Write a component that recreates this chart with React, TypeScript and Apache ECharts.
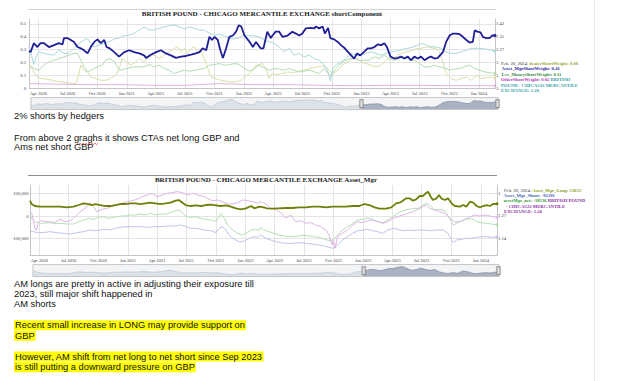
import React, { useEffect, useRef } from "react";
import * as echarts from "echarts";

// ---------------- Chart 1: shortComponent ----------------
const assetMgrShortWeight: [string, number][] = [
  ["2020-03-03",0.29],["2020-03-08",0.28],["2020-03-18",0.35],["2020-03-29",0.32],["2020-04-08",0.35],["2020-04-19",0.35],["2020-05-04",0.32],["2020-05-20",0.335],["2020-06-04",0.35],["2020-06-15",0.34],["2020-06-20",0.39],["2020-06-30",0.39],["2020-07-11",0.375],["2020-07-21",0.36],["2020-08-01",0.32],["2020-08-11",0.31],["2020-08-21",0.295],["2020-09-01",0.27],["2020-09-11",0.32],["2020-09-22",0.36],["2020-10-02",0.38],["2020-10-12",0.35],["2020-10-23",0.375],["2020-10-30",0.32],["2020-11-09",0.31],["2020-11-23",0.28],["2020-12-08",0.245],["2020-12-24",0.28],["2021-01-09",0.295],["2021-01-24",0.28],["2021-02-09",0.27],["2021-02-24",0.255],["2021-03-02",0.235],["2021-03-17",0.26],["2021-04-02",0.28],["2021-04-17",0.295],["2021-05-03",0.27],["2021-05-18",0.255],["2021-06-03",0.235],["2021-06-19",0.245],["2021-07-04",0.25],["2021-07-20",0.26],["2021-08-04",0.27],["2021-08-15",0.28],["2021-08-25",0.31],["2021-09-05",0.295],["2021-09-15",0.40],["2021-09-23",0.375],["2021-10-01",0.40],["2021-10-11",0.375],["2021-10-19",0.295],["2021-10-27",0.235],["2021-11-06",0.31],["2021-11-16",0.40],["2021-11-27",0.41],["2021-12-07",0.44],["2021-12-15",0.49],["2021-12-23",0.48],["2022-01-02",0.41],["2022-01-18",0.36],["2022-01-28",0.32],["2022-02-07",0.36],["2022-02-21",0.31],["2022-03-02",0.31],["2022-03-14",0.44],["2022-03-25",0.39],["2022-03-30",0.41],["2022-04-09",0.44],["2022-04-20",0.44],["2022-04-30",0.40],["2022-05-16",0.41],["2022-05-31",0.44],["2022-06-11",0.425],["2022-06-21",0.41],["2022-07-01",0.425],["2022-07-12",0.466],["2022-07-27",0.47],["2022-08-07",0.466],["2022-08-12",0.48],["2022-08-22",0.466],["2022-09-02",0.48],["2022-09-09",0.425],["2022-09-19",0.47],["2022-09-26",0.39],["2022-10-08",0.38],["2022-10-19",0.36],["2022-10-29",0.335],["2022-11-08",0.315],["2022-11-24",0.27],["2022-12-09",0.23],["2022-12-18",0.27],["2022-12-28",0.255],["2023-01-08",0.28],["2023-01-20",0.31],["2023-01-30",0.31],["2023-02-10",0.32],["2023-02-20",0.34],["2023-03-03",0.335],["2023-03-13",0.35],["2023-03-21",0.32],["2023-04-01",0.245],["2023-04-13",0.23],["2023-04-24",0.235],["2023-05-04",0.245],["2023-05-14",0.23],["2023-05-25",0.245],["2023-06-04",0.217],["2023-06-14",0.245],["2023-06-25",0.23],["2023-07-05",0.245],["2023-07-16",0.217],["2023-07-26",0.235],["2023-08-05",0.245],["2023-08-16",0.23],["2023-08-26",0.235],["2023-09-11",0.28],["2023-09-21",0.36],["2023-10-02",0.41],["2023-10-12",0.425],["2023-10-22",0.425],["2023-11-02",0.42],["2023-11-12",0.40],["2023-11-23",0.375],["2023-12-03",0.355],["2023-12-13",0.36],["2023-12-19",0.45],["2023-12-27",0.44],["2024-01-06",0.435],["2024-01-13",0.40],["2024-01-24",0.39],["2024-02-03",0.39],["2024-02-11",0.41],["2024-02-20",0.41]
];

const levMoneyShortWeight: [string, number][] = [
  ["2020-03-03",0.183],["2020-03-08",0.173],["2020-03-18",0.152],["2020-04-03",0.139],["2020-04-19",0.183],["2020-05-04",0.204],["2020-05-20",0.217],["2020-06-04",0.23],["2020-06-20",0.243],["2020-07-06",0.257],["2020-07-21",0.27],["2020-08-01",0.27],["2020-08-11",0.217],["2020-08-21",0.165],["2020-09-01",0.126],["2020-09-11",0.139],["2020-09-22",0.152],["2020-10-02",0.165],["2020-10-18",0.183],["2020-10-28",0.217],["2020-11-08",0.23],["2020-11-23",0.209],["2020-12-08",0.139],["2020-12-24",0.147],["2021-01-09",0.157],["2021-01-24",0.165],["2021-02-09",0.165],["2021-02-24",0.165],["2021-03-12",0.183],["2021-03-27",0.165],["2021-04-12",0.178],["2021-04-28",0.152],["2021-05-13",0.139],["2021-05-29",0.113],["2021-06-13",0.126],["2021-06-29",0.139],["2021-07-15",0.131],["2021-07-30",0.139],["2021-08-15",0.147],["2021-08-30",0.152],["2021-09-15",0.178],["2021-10-01",0.183],["2021-10-16",0.191],["2021-11-01",0.178],["2021-11-16",0.183],["2021-12-02",0.191],["2021-12-17",0.183],["2022-01-02",0.152],["2022-01-18",0.131],["2022-02-02",0.152],["2022-02-16",0.178],["2022-03-04",0.157],["2022-03-20",0.139],["2022-04-04",0.152],["2022-04-20",0.147],["2022-05-05",0.139],["2022-05-21",0.152],["2022-06-05",0.139],["2022-06-21",0.126],["2022-07-07",0.131],["2022-07-22",0.139],["2022-08-07",0.126],["2022-08-22",0.113],["2022-09-07",0.152],["2022-09-19",0.113],["2022-09-30",0.086],["2022-10-08",0.139],["2022-10-24",0.178],["2022-11-08",0.209],["2022-11-24",0.23],["2022-12-09",0.23],["2022-12-25",0.217],["2023-01-10",0.217],["2023-01-25",0.217],["2023-02-10",0.243],["2023-02-25",0.23],["2023-03-13",0.257],["2023-03-29",0.23],["2023-04-13",0.217],["2023-04-29",0.23],["2023-05-14",0.243],["2023-05-30",0.217],["2023-06-14",0.217],["2023-06-30",0.191],["2023-07-16",0.165],["2023-07-31",0.165],["2023-08-16",0.178],["2023-08-31",0.165],["2023-09-16",0.157],["2023-10-02",0.139],["2023-10-17",0.147],["2023-11-02",0.152],["2023-11-17",0.165],["2023-12-03",0.178],["2023-12-19",0.152],["2024-01-03",0.139],["2024-01-19",0.126],["2024-02-03",0.12],["2024-02-20",0.113]
];

const dealerShortWeight: [string, number][] = [
  ["2020-03-03",0.183],["2020-03-08",0.165],["2020-03-18",0.126],["2020-03-29",0.086],["2020-04-13",0.073],["2020-04-29",0.068],["2020-05-15",0.06],["2020-05-30",0.052],["2020-06-15",0.047],["2020-06-30",0.042],["2020-07-16",0.034],["2020-07-27",0.034],["2020-08-04",0.10],["2020-08-11",0.178],["2020-08-21",0.139],["2020-09-01",0.126],["2020-09-11",0.086],["2020-09-27",0.073],["2020-10-12",0.06],["2020-10-28",0.06],["2020-11-11",0.073],["2020-11-28",0.10],["2020-12-08",0.152],["2020-12-18",0.23],["2020-12-29",0.204],["2021-01-14",0.178],["2021-01-29",0.204],["2021-02-09",0.23],["2021-02-24",0.204],["2021-03-12",0.243],["2021-03-27",0.257],["2021-04-12",0.23],["2021-04-28",0.257],["2021-05-13",0.283],["2021-05-29",0.309],["2021-06-08",0.322],["2021-06-19",0.283],["2021-06-29",0.309],["2021-07-09",0.27],["2021-07-20",0.309],["2021-07-30",0.322],["2021-08-10",0.283],["2021-08-20",0.288],["2021-08-30",0.23],["2021-09-10",0.152],["2021-09-20",0.086],["2021-10-06",0.073],["2021-10-21",0.06],["2021-11-06",0.052],["2021-11-22",0.047],["2021-12-07",0.047],["2021-12-23",0.06],["2022-01-02",0.086],["2022-01-18",0.113],["2022-01-28",0.139],["2022-02-07",0.178],["2022-02-11",0.178],["2022-02-26",0.191],["2022-03-09",0.152],["2022-03-20",0.073],["2022-03-30",0.113],["2022-04-14",0.105],["2022-04-30",0.113],["2022-05-16",0.126],["2022-05-31",0.12],["2022-06-16",0.126],["2022-07-01",0.139],["2022-07-17",0.147],["2022-08-02",0.157],["2022-08-17",0.165],["2022-09-02",0.173],["2022-09-17",0.152],["2022-10-03",0.113],["2022-10-19",0.139],["2022-11-03",0.178],["2022-11-19",0.204],["2022-12-04",0.23],["2022-12-20",0.23],["2022-12-30",0.204],["2023-01-15",0.191],["2023-01-30",0.178],["2023-02-15",0.165],["2023-03-03",0.178],["2023-03-18",0.217],["2023-04-03",0.23],["2023-04-18",0.243],["2023-05-04",0.27],["2023-05-20",0.283],["2023-06-04",0.288],["2023-06-20",0.309],["2023-07-05",0.309],["2023-07-21",0.322],["2023-08-05",0.314],["2023-08-21",0.309],["2023-08-31",0.283],["2023-09-11",0.204],["2023-09-21",0.113],["2023-10-07",0.073],["2023-10-22",0.06],["2023-11-07",0.073],["2023-11-23",0.086],["2023-12-08",0.06],["2023-12-24",0.10],["2024-01-08",0.073],["2024-01-24",0.079],["2024-02-08",0.086],["2024-02-20",0.079]
];

const otherShortWeight: [string, number][] = [
  ["2020-03-03",0.034],["2020-05-15",0.031],["2020-08-27",0.026],["2020-12-08",0.026],["2021-03-22",0.021],["2021-07-04",0.021],["2021-10-16",0.034],["2022-02-02",0.026],["2022-05-16",0.026],["2022-09-02",0.021],["2022-12-09",0.018],["2023-04-03",0.021],["2023-07-05",0.021],["2023-10-17",0.018],["2024-02-20",0.018]
];

const gbpPriceTop: [string, number][] = [
  ["2020-03-03",1.288],["2020-03-08",1.259],["2020-03-18",1.186],["2020-03-25",1.23],["2020-04-03",1.259],["2020-04-19",1.25],["2020-05-04",1.244],["2020-05-20",1.24],["2020-06-04",1.269],["2020-06-20",1.25],["2020-07-06",1.25],["2020-07-21",1.279],["2020-08-06",1.308],["2020-08-21",1.327],["2020-09-01",1.337],["2020-09-11",1.308],["2020-09-22",1.288],["2020-10-07",1.298],["2020-10-23",1.308],["2020-11-08",1.317],["2020-11-23",1.333],["2020-12-08",1.34],["2020-12-24",1.352],["2021-01-09",1.356],["2021-01-24",1.366],["2021-02-09",1.385],["2021-02-24",1.404],["2021-03-12",1.385],["2021-03-27",1.385],["2021-04-12",1.395],["2021-04-28",1.404],["2021-05-13",1.41],["2021-05-29",1.414],["2021-06-13",1.404],["2021-06-29",1.391],["2021-07-15",1.404],["2021-07-30",1.395],["2021-08-15",1.385],["2021-08-30",1.385],["2021-09-15",1.366],["2021-10-01",1.356],["2021-10-16",1.36],["2021-11-01",1.352],["2021-11-16",1.337],["2021-12-02",1.333],["2021-12-17",1.34],["2022-01-02",1.356],["2022-01-18",1.352],["2022-02-02",1.352],["2022-02-16",1.346],["2022-03-04",1.327],["2022-03-20",1.317],["2022-04-04",1.308],["2022-04-20",1.288],["2022-05-05",1.259],["2022-05-21",1.279],["2022-06-05",1.24],["2022-06-21",1.25],["2022-07-07",1.23],["2022-07-22",1.24],["2022-08-07",1.22],["2022-08-22",1.21],["2022-09-07",1.182],["2022-09-17",1.153],["2022-09-26",1.09],["2022-10-03",1.162],["2022-10-13",1.182],["2022-10-29",1.2],["2022-11-13",1.22],["2022-11-29",1.25],["2022-12-15",1.24],["2022-12-30",1.24],["2023-01-15",1.25],["2023-01-30",1.259],["2023-02-15",1.25],["2023-03-03",1.24],["2023-03-18",1.25],["2023-04-03",1.259],["2023-04-18",1.263],["2023-05-04",1.269],["2023-05-20",1.279],["2023-06-04",1.283],["2023-06-20",1.294],["2023-07-05",1.308],["2023-07-21",1.3],["2023-08-05",1.288],["2023-08-21",1.288],["2023-09-06",1.279],["2023-09-21",1.259],["2023-10-07",1.25],["2023-10-22",1.25],["2023-11-07",1.259],["2023-11-23",1.269],["2023-12-08",1.279],["2023-12-24",1.279],["2024-01-08",1.279],["2024-01-24",1.275],["2024-02-08",1.269],["2024-02-20",1.262]
];

// ---------------- Chart 2: Asset_Mgr ----------------
const assetMgrLong: [string, number][] = [
  ["2020-03-03",67600],["2020-03-08",52900],["2020-03-18",44100],["2020-04-03",41200],["2020-04-24",41200],["2020-05-15",41200],["2020-06-04",41200],["2020-06-25",38200],["2020-07-16",41200],["2020-08-01",48500],["2020-08-16",55900],["2020-09-01",52900],["2020-09-11",48500],["2020-09-22",52900],["2020-10-07",48500],["2020-10-23",44100],["2020-11-08",44100],["2020-11-23",48500],["2020-12-08",52900],["2020-12-24",52900],["2021-01-09",55900],["2021-01-24",55900],["2021-02-09",52900],["2021-02-24",55900],["2021-03-12",58800],["2021-03-27",55900],["2021-04-12",52900],["2021-04-28",55900],["2021-05-13",58800],["2021-05-29",67600],["2021-06-08",70600],["2021-06-19",58800],["2021-06-29",48500],["2021-07-15",44100],["2021-07-30",47000],["2021-08-15",44100],["2021-08-30",48500],["2021-09-15",50000],["2021-10-01",47000],["2021-10-16",44100],["2021-11-01",47000],["2021-11-16",41200],["2021-12-02",33800],["2021-12-17",29400],["2022-01-02",33800],["2022-01-18",44100],["2022-01-28",33800],["2022-02-13",41200],["2022-02-26",38200],["2022-03-09",33800],["2022-03-25",32400],["2022-04-14",33800],["2022-05-05",35300],["2022-05-26",35300],["2022-06-16",38200],["2022-07-07",38200],["2022-07-27",41200],["2022-08-17",41200],["2022-09-07",38200],["2022-09-28",41200],["2022-10-19",41200],["2022-11-08",41200],["2022-11-29",44100],["2022-12-20",44100],["2023-01-04",52900],["2023-01-20",48500],["2023-02-05",38200],["2023-02-20",32400],["2023-03-13",32400],["2023-03-29",38200],["2023-04-13",55900],["2023-04-24",58800],["2023-05-04",67600],["2023-05-14",77900],["2023-05-25",77900],["2023-06-04",67600],["2023-06-14",73500],["2023-06-25",88200],["2023-07-05",88200],["2023-07-14",100000],["2023-07-21",107400],["2023-07-28",88200],["2023-08-05",70600],["2023-08-16",77900],["2023-08-24",92600],["2023-08-31",77900],["2023-09-11",70600],["2023-09-21",77900],["2023-10-02",55900],["2023-10-12",44100],["2023-10-28",41200],["2023-11-07",48500],["2023-11-17",41200],["2023-11-28",63200],["2023-12-08",58800],["2023-12-19",44100],["2023-12-29",38200],["2024-01-08",44100],["2024-01-19",48500],["2024-01-29",44100],["2024-02-08",52900],["2024-02-20",53655]
];

const assetMgrShort: [string, number][] = [
  ["2020-03-03",-69100],["2020-03-13",-69100],["2020-03-29",-73500],["2020-04-13",-73500],["2020-05-04",-69100],["2020-05-25",-73500],["2020-06-15",-76500],["2020-07-06",-79400],["2020-07-27",-73500],["2020-08-16",-69100],["2020-09-06",-61800],["2020-09-22",-64700],["2020-10-07",-61800],["2020-10-23",-58800],["2020-11-08",-61800],["2020-11-23",-54400],["2020-12-08",-50000],["2020-12-29",-47100],["2021-01-19",-47100],["2021-02-09",-47100],["2021-03-02",-50000],["2021-03-22",-47100],["2021-04-12",-47100],["2021-05-03",-44100],["2021-05-24",-44100],["2021-06-13",-39700],["2021-06-29",-47100],["2021-07-15",-54400],["2021-08-04",-54400],["2021-08-25",-61800],["2021-09-15",-64700],["2021-10-01",-73500],["2021-10-11",-54400],["2021-10-21",-47100],["2021-11-01",-61800],["2021-11-11",-83800],["2021-11-27",-102900],["2021-12-12",-113200],["2021-12-23",-113200],["2022-01-07",-102900],["2022-01-23",-91200],["2022-02-07",-94100],["2022-02-16",-83800],["2022-03-04",-98500],["2022-03-20",-105900],["2022-04-04",-113200],["2022-04-20",-117600],["2022-05-05",-120600],["2022-05-26",-120600],["2022-06-16",-117600],["2022-07-07",-120600],["2022-07-27",-123500],["2022-08-17",-127900],["2022-09-02",-132400],["2022-09-17",-138200],["2022-09-30",-142600],["2022-10-13",-127900],["2022-10-29",-105900],["2022-11-13",-91200],["2022-11-29",-76500],["2022-12-15",-64700],["2022-12-30",-61800],["2023-01-15",-58800],["2023-01-30",-64700],["2023-02-15",-69100],["2023-03-03",-76500],["2023-03-18",-61800],["2023-04-03",-54400],["2023-04-18",-58800],["2023-05-04",-64700],["2023-05-20",-61800],["2023-06-04",-64700],["2023-06-20",-61800],["2023-07-05",-61800],["2023-07-26",-64700],["2023-08-16",-61800],["2023-09-06",-61800],["2023-09-21",-76500],["2023-10-07",-117600],["2023-10-17",-105900],["2023-11-02",-102900],["2023-11-17",-98500],["2023-12-03",-98500],["2023-12-19",-94100],["2024-01-03",-91200],["2024-01-19",-91200],["2024-02-03",-94100],["2024-02-20",-92291]
];

const assetMgrNet: [string, number][] = [
  ["2020-03-03",4400],["2020-03-08",-10300],["2020-03-18",-25000],["2020-03-29",-29400],["2020-04-13",-32400],["2020-04-29",-29400],["2020-05-15",-32400],["2020-06-04",-32400],["2020-06-25",-35300],["2020-07-16",-35300],["2020-08-01",-25000],["2020-08-16",-17600],["2020-09-01",-10300],["2020-09-16",-14700],["2020-10-02",-5900],["2020-10-18",-2900],["2020-11-02",-10300],["2020-11-18",-5900],["2020-12-08",0],["2020-12-24",0],["2021-01-09",4400],["2021-01-24",4400],["2021-02-09",8800],["2021-02-24",4400],["2021-03-12",11800],["2021-03-27",4400],["2021-04-12",8800],["2021-04-28",8800],["2021-05-13",14700],["2021-05-29",23500],["2021-06-08",26500],["2021-06-19",14700],["2021-06-29",0],["2021-07-15",-5900],["2021-07-30",-2900],["2021-08-15",-10300],["2021-08-30",-14700],["2021-09-15",-17600],["2021-10-01",-25000],["2021-10-11",-2900],["2021-10-16",11800],["2021-10-27",-10300],["2021-11-06",-39700],["2021-11-22",-61800],["2021-12-07",-76500],["2021-12-23",-83800],["2022-01-02",-76500],["2022-01-18",-61800],["2022-01-28",-58800],["2022-02-13",-61800],["2022-02-16",-50000],["2022-02-26",-61800],["2022-03-14",-69100],["2022-03-30",-76500],["2022-04-14",-83800],["2022-04-30",-88200],["2022-05-16",-91200],["2022-05-31",-91200],["2022-06-16",-88200],["2022-07-01",-83800],["2022-07-17",-88200],["2022-08-02",-91200],["2022-08-17",-94100],["2022-09-02",-102900],["2022-09-12",-105900],["2022-09-23",-108800],["2022-10-03",-98500],["2022-10-13",-83800],["2022-10-29",-61800],["2022-11-13",-47100],["2022-11-29",-32400],["2022-12-15",-17600],["2022-12-30",-14700],["2023-01-15",-10300],["2023-01-30",-14700],["2023-02-15",-25000],["2023-03-03",-29400],["2023-03-18",-17600],["2023-04-03",-2900],["2023-04-18",11800],["2023-05-04",23500],["2023-05-20",29400],["2023-06-04",33800],["2023-06-20",33800],["2023-07-05",48500],["2023-07-16",55900],["2023-07-26",48500],["2023-08-11",26500],["2023-08-26",29400],["2023-09-11",23500],["2023-09-26",-10300],["2023-10-07",-39700],["2023-10-17",-32400],["2023-11-02",-20600],["2023-11-17",-14700],["2023-12-03",-10300],["2023-12-19",-25000],["2024-01-03",-29400],["2024-01-19",-32400],["2024-02-03",-35300],["2024-02-20",-38536]
];

const gbpPriceBottom: [string, number][] = [
  ["2020-03-03",1.295],["2020-03-08",1.285],["2020-03-13",1.251],["2020-03-18",1.199],["2020-03-23",1.19],["2020-03-29",1.228],["2020-04-08",1.247],["2020-04-19",1.237],["2020-05-04",1.237],["2020-05-20",1.232],["2020-06-04",1.251],["2020-06-20",1.237],["2020-07-06",1.243],["2020-07-21",1.266],["2020-08-06",1.295],["2020-08-21",1.314],["2020-09-06",1.343],["2020-09-16",1.324],["2020-09-27",1.295],["2020-10-12",1.308],["2020-10-28",1.314],["2020-11-11",1.324],["2020-11-28",1.333],["2020-12-14",1.343],["2020-12-29",1.352],["2021-01-14",1.358],["2021-01-29",1.366],["2021-02-14",1.381],["2021-03-02",1.39],["2021-03-17",1.40],["2021-04-02",1.381],["2021-04-17",1.39],["2021-05-03",1.40],["2021-05-18",1.404],["2021-06-03",1.41],["2021-06-19",1.404],["2021-07-04",1.39],["2021-07-20",1.40],["2021-08-04",1.39],["2021-08-20",1.385],["2021-09-05",1.371],["2021-09-20",1.358],["2021-10-06",1.362],["2021-10-21",1.352],["2021-11-06",1.339],["2021-11-22",1.339],["2021-12-07",1.346],["2021-12-23",1.362],["2022-01-07",1.358],["2022-01-23",1.352],["2022-02-07",1.343],["2022-02-16",1.352],["2022-02-26",1.346],["2022-03-09",1.333],["2022-03-20",1.314],["2022-04-04",1.308],["2022-04-20",1.289],["2022-05-05",1.257],["2022-05-21",1.276],["2022-06-05",1.237],["2022-06-21",1.243],["2022-07-07",1.228],["2022-07-22",1.232],["2022-08-07",1.218],["2022-08-22",1.209],["2022-09-07",1.19],["2022-09-17",1.161],["2022-09-26",1.104],["2022-09-30",1.132],["2022-10-06",1.085],["2022-10-13",1.151],["2022-10-29",1.171],["2022-11-13",1.19],["2022-11-29",1.218],["2022-12-15",1.237],["2022-12-30",1.232],["2023-01-15",1.243],["2023-01-30",1.247],["2023-02-15",1.237],["2023-03-03",1.228],["2023-03-18",1.237],["2023-04-03",1.257],["2023-04-18",1.266],["2023-05-04",1.276],["2023-05-20",1.285],["2023-06-04",1.295],["2023-06-20",1.308],["2023-07-05",1.324],["2023-07-16",1.333],["2023-07-26",1.314],["2023-08-11",1.304],["2023-08-26",1.295],["2023-09-11",1.285],["2023-09-26",1.257],["2023-10-12",1.237],["2023-10-28",1.237],["2023-11-12",1.251],["2023-11-28",1.266],["2023-12-13",1.276],["2023-12-29",1.27],["2024-01-13",1.276],["2024-01-29",1.27],["2024-02-20",1.262]
];

// ---------------- ticks ----------------
const xTickDates = ["2020-04-01","2020-07-01","2020-10-01","2021-01-01","2021-04-01","2021-07-01","2021-10-01","2022-01-01","2022-04-01","2022-07-01","2022-10-01","2023-01-01","2023-04-01","2023-07-01","2023-10-01","2024-01-01"];
const leftTicksTop = [0, 0.1, 0.2, 0.3, 0.4, 0.5];
const rightTicksTop = [1.05, 1.12, 1.2, 1.27, 1.35, 1.42];
// visible part of each right-axis label (the lower three sit under the legend box)
const rightTickLabelsTop = ["1.", "1.", "1.", "1.27", "1.35", "1.42"];
const leftTicksBottom = [-100000, 0, 100000];
const rightTicksBottom = [1.14, 1.27, 1.4];
const rightTickLabelsBottom = ["1.14", "1.27", "1."];
const legendDate = "Feb. 20, 2024";

const MONTHS = ["Jan","Feb","Mar","Apr","May","Jun","Jul","Aug","Sep","Oct","Nov","Dec"];
const serif = "'Liberation Serif', 'Times New Roman', serif";
const sans = "'Liberation Sans', Arial, sans-serif";

const toTs = (s: string) => { const [y, m, d] = s.split("-").map(Number); return Date.UTC(y, m - 1, d); };
const pts = (arr: [string, number][]) => arr.map(([d, v]) => [toTs(d), v]);
const lastVal = (arr: [string, number][]) => arr[arr.length - 1][1];

function xAxisCfg(gridIndex: number, min: string, max: string) {
  const ticks = xTickDates.map(toTs);
  return {
    type: "value", gridIndex, min: toTs(min), max: toTs(max),
    axisLine: { show: true, onZero: false, lineStyle: { color: "#c4c4c4", width: 1 } },
    axisTick: { show: false, customValues: ticks },
    axisLabel: {
      customValues: ticks, hideOverlap: false,
      formatter: (v: number) => { const d = new Date(v); return MONTHS[d.getUTCMonth()] + " " + d.getUTCFullYear(); },
      fontFamily: serif, fontSize: 4.5, color: "#444", margin: 3,
    },
    splitLine: { show: true, lineStyle: { color: "#e4e4e4", width: 1 } },
  };
}

function yAxisCfg(gridIndex: number, position: string, min: number, max: number, ticks: number[], split: boolean, margin: number, labels?: string[]) {
  const fmt = labels
    ? (v: number) => { let best = 0; ticks.forEach((t, i) => { if (Math.abs(t - v) < Math.abs(ticks[best] - v)) best = i; }); return labels[best]; }
    : undefined;
  return {
    type: "value", gridIndex, position, min, max,
    axisLine: { show: true, onZero: false, lineStyle: { color: "#c4c4c4", width: 1 } },
    axisTick: { show: false, customValues: ticks },
    axisLabel: { customValues: ticks, formatter: fmt, fontFamily: serif, fontSize: 4.7, color: "#444", margin },
    splitLine: { show: split, lineStyle: { color: "#e4e4e4", width: 1 } },
  };
}

function lineSeries(name: string, data: [string, number][], color: string, width: number, xIdx: number, yIdx: number, z: number) {
  const n = data.length;
  return {
    type: "line", name, xAxisIndex: xIdx, yAxisIndex: yIdx, data: pts(data), z,
    showSymbol: true, symbol: "circle",
    symbolSize: (_v: any, p: any) => (p && p.dataIndex === n - 1 ? 3 : 0),
    itemStyle: { color }, lineStyle: { color, width }, silent: true,
  };
}

function slider(xAxisIndex: number, left: number, right: number, top: number, start: number) {
  return {
    type: "slider", xAxisIndex, left, right, top, height: 13, start, end: 100,
    filterMode: "none", showDetail: false, brushSelect: false, realtime: false,
    backgroundColor: "#f3f4f6", borderColor: "#c6c6c6", borderRadius: 0,
    fillerColor: "rgba(255,255,255,0)",
    dataBackground: { lineStyle: { color: "#b9bfca", width: 0.6 }, areaStyle: { color: "#dde1e8", opacity: 1 } },
    selectedDataBackground: { lineStyle: { color: "#8a94a8", width: 0.8 }, areaStyle: { color: "#a9b2c3", opacity: 1 } },
    handleIcon: "path://M0,0 L10,0 L10,24 L0,24 Z", handleSize: "60%",
    handleStyle: { color: "#e2e2e2", borderColor: "#8c8c8c", borderWidth: 1 },
    moveHandleSize: 0,
  };
}

function legendLine(x: number, y: number, segs: { t: string; c: string; b?: boolean }[]) {
  const rich: any = {};
  let text = "";
  segs.forEach((s, i) => {
    rich["s" + i] = { fill: s.c, fontFamily: serif, fontSize: 4.7, fontWeight: s.b ? "bold" : "normal" };
    text += `{s${i}|${s.t}}`;
  });
  return { type: "text", z: 110, style: { text, rich, x, y, verticalAlign: "middle", textVerticalAlign: "middle", font: `4.7px ${serif}` } };
}

function bodyText(text: string, y: number, highlight?: boolean) {
  const style: any = { text, x: 14, y, fill: "#111", font: `9.3px ${sans}`, verticalAlign: "middle", textVerticalAlign: "middle" };
  if (highlight) { style.backgroundColor = "#ffff00"; style.padding = [1, 1, 0, 1]; }
  return { type: "text", z: 110, style };
}

function buildOption() {
  const c1 = { dealer: "#a3a33a", am: "#26269c", lev: "#3c8c3c", other: "#b03cb0", price: "#34a0a4" };
  const c2 = { long: "#8e9c1c", short: "#3f5fb8", net: "#2f9a2f", price: "#8a2fa6" };

  const graphic: any[] = [
    { type: "line", z: 1, shape: { x1: 594.5, y1: 0, x2: 594.5, y2: 381 }, style: { stroke: "#e6e6e6", lineWidth: 1 } },
    { type: "line", z: 1, shape: { x1: 28, y1: 9.5, x2: 496, y2: 9.5 }, style: { stroke: "#d2d2d2", lineWidth: 1 } },
    { type: "line", z: 1, shape: { x1: 28, y1: 175.5, x2: 497, y2: 175.5 }, style: { stroke: "#8e8e8e", lineWidth: 1 } },
    { type: "text", z: 110, style: { text: "BRITISH POUND - CHICAGO MERCANTILE EXCHANGE shortComponent", x: 262, y: 13.5, align: "center", textAlign: "center", verticalAlign: "middle", textVerticalAlign: "middle", fill: "#222", font: `bold 7px ${serif}` } },
    { type: "text", z: 110, style: { text: "BRITISH POUND - CHICAGO MERCANTILE EXCHANGE Asset_Mgr", x: 266, y: 180, align: "center", textAlign: "center", verticalAlign: "middle", textVerticalAlign: "middle", fill: "#222", font: `bold 7px ${serif}` } },
    legendLine(501, 63.3, [{ t: `${legendDate}: `, c: "#333" }, { t: `dealerShortWeight: ${lastVal(dealerShortWeight).toFixed(2)}`, c: c1.dealer, b: true }]),
    legendLine(501.5, 68.8, [{ t: `Asset_MgrShortWeight: ${lastVal(assetMgrShortWeight).toFixed(2)}`, c: c1.am, b: true }]),
    legendLine(501.5, 74.3, [{ t: `Lev_MoneyShortWeight: ${lastVal(levMoneyShortWeight).toFixed(2)}`, c: c1.lev, b: true }]),
    legendLine(501, 79.8, [{ t: `OtherShortWeight: ${lastVal(otherShortWeight).toFixed(2)}`, c: c1.other, b: true }, { t: " BRITISH", c: c1.price, b: true }]),
    legendLine(501, 85.3, [{ t: "POUND - CHICAGO MERCANTILE", c: c1.price, b: true }]),
    legendLine(501, 90.8, [{ t: `EXCHANGE: ${lastVal(gbpPriceTop).toFixed(2)}`, c: c1.price, b: true }]),
    legendLine(504, 190, [{ t: `${legendDate}: `, c: "#333" }, { t: `Asset_Mgr_Long: ${Math.round(lastVal(assetMgrLong))}`, c: c2.long, b: true }]),
    legendLine(503.5, 195.4, [{ t: `Asset_Mgr_Short: ${Math.round(lastVal(assetMgrShort))}`, c: c2.short, b: true }]),
    legendLine(503.5, 200.8, [{ t: `assetMgr_net: ${Math.round(lastVal(assetMgrNet))}`, c: c2.net, b: true }, { t: " BRITISH POUND", c: c2.price, b: true }]),
    legendLine(506, 206.2, [{ t: "- CHICAGO MERCANTILE", c: c2.price, b: true }]),
    legendLine(504, 211.6, [{ t: `EXCHANGE: ${lastVal(gbpPriceBottom).toFixed(2)}`, c: c2.price, b: true }]),
    bodyText("2% shorts by hedgers", 115.5),
    bodyText("From above 2 graghs it shows CTAs net long GBP and", 137.5),
    bodyText("Ams net short GBP", 147.3),
    bodyText("AM longs are pretty in active in adjusting their exposure till", 283.5),
    bodyText("2023, still major shift happened in", 293.5),
    bodyText("AM shorts", 303.5),
    bodyText("Recent small increase in LONG may provide support on", 325.2, true),
    bodyText("GBP", 335.8, true),
    bodyText("However, AM shift from net long to net short since Sep 2023", 356.6, true),
    bodyText("is still putting a downward pressure on GBP", 367.2, true),
    { type: "polyline", z: 111, shape: { points: [[77,143.2],[78.5,144.6],[80,143.2],[81.5,144.6],[83,143.2],[84.5,144.6],[86,143.2],[87.5,144.6],[89,143.2],[90.5,144.6],[92,143.2],[93.5,144.6],[95,143.2],[96.5,144.6],[98,143.2]] }, style: { stroke: "#e03030", lineWidth: 0.7, fill: "none" } },
  ];

  return {
    animation: false,
    backgroundColor: "#fff",
    textStyle: { fontFamily: serif },
    grid: [
      { left: 29, right: 130, top: 19, height: 69 },
      { left: 30, right: 128, top: 185, height: 70 },
      { left: 0, top: 0, width: 4, height: 4 },
      { left: 0, top: 0, width: 4, height: 4 },
    ],
    xAxis: [
      xAxisCfg(0, "2020-03-03", "2024-02-20"),
      xAxisCfg(1, "2020-03-03", "2024-02-20"),
      { type: "value", gridIndex: 2, show: false, scale: true },
      { type: "value", gridIndex: 3, show: false, scale: true },
    ],
    yAxis: [
      yAxisCfg(0, "left", 0, 0.539, leftTicksTop, true, 3),
      yAxisCfg(0, "right", 1.05, 1.4489, rightTicksTop, false, 1, rightTickLabelsTop),
      yAxisCfg(1, "left", -172000, 136800, leftTicksBottom, true, 1.5),
      yAxisCfg(1, "right", 1.046, 1.448, rightTicksBottom, false, 1, rightTickLabelsBottom),
      { type: "value", gridIndex: 2, show: false, scale: true },
      { type: "value", gridIndex: 3, show: false, scale: true },
    ],
    dataZoom: [slider(2, 28, 129, 97, 70.5), slider(3, 30, 128, 264, 70.7)],
    series: [
      lineSeries("dealerShortWeight", dealerShortWeight, "#dcdcab", 1, 0, 0, 3),
      lineSeries("Lev_MoneyShortWeight", levMoneyShortWeight, "#b2dbb2", 1, 0, 0, 3),
      lineSeries("OtherShortWeight", otherShortWeight, "#e0b2e0", 1, 0, 0, 3),
      lineSeries("GBP price top", gbpPriceTop, "#aad8da", 1, 0, 1, 3),
      lineSeries("Asset_MgrShortWeight", assetMgrShortWeight, "#1f1f99", 1.8, 0, 0, 5),
      lineSeries("Asset_Mgr_Short", assetMgrShort, "#bcc4ec", 1, 1, 2, 3),
      lineSeries("assetMgr_net", assetMgrNet, "#b6deb6", 1, 1, 2, 3),
      lineSeries("GBP price bottom", gbpPriceBottom, "#dcb4e6", 1, 1, 3, 3),
      lineSeries("Asset_Mgr_Long", assetMgrLong, "#6f7f08", 1.8, 1, 2, 5),
      { type: "line", xAxisIndex: 2, yAxisIndex: 4, data: pts(assetMgrShortWeight), symbol: "none", lineStyle: { opacity: 0 }, silent: true },
      { type: "line", xAxisIndex: 3, yAxisIndex: 5, data: pts(assetMgrLong), symbol: "none", lineStyle: { opacity: 0 }, silent: true },
    ],
    graphic,
  };
}

export default function App() {
  const ref = useRef<HTMLDivElement>(null);
  useEffect(() => {
    if (!ref.current) return;
    const chart = echarts.init(ref.current, null, { renderer: "svg", width: 625, height: 381 });
    chart.setOption(buildOption() as any);
    return () => chart.dispose();
  }, []);
  return <div ref={ref} style={{ position: "fixed", left: 0, top: 0, width: 625, height: 381, background: "#fff" }} />;
}
